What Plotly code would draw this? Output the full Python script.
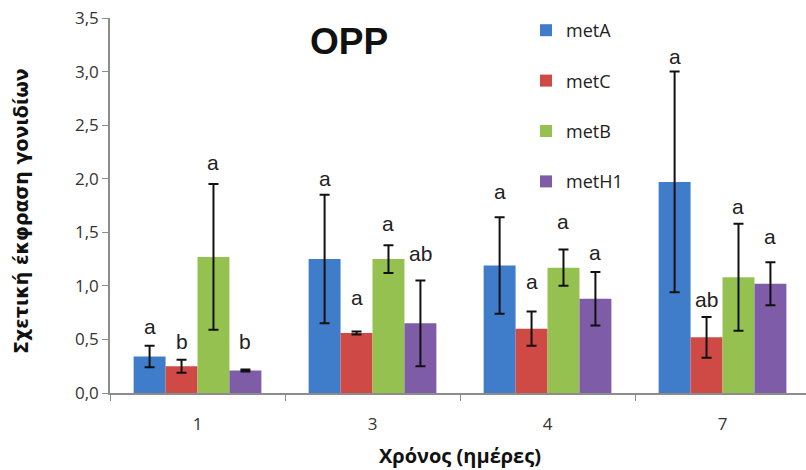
import plotly.graph_objects as go

days = ["1", "3", "4", "7"]
series = ["metA", "metC", "metB", "metH1"]
colors = ["#3f7cc9", "#cf4a45", "#94c150", "#7e5ca8"]

means = {
    "metA":  [0.34, 1.25, 1.19, 1.97],
    "metC":  [0.25, 0.56, 0.60, 0.52],
    "metB":  [1.27, 1.25, 1.17, 1.08],
    "metH1": [0.21, 0.65, 0.88, 1.02],
}
errors = {
    "metA":  [0.10, 0.60, 0.45, 1.03],
    "metC":  [0.06, 0.015, 0.16, 0.19],
    "metB":  [0.68, 0.13, 0.17, 0.50],
    "metH1": [0.01, 0.40, 0.25, 0.20],
}
letters = {
    "metA":  ["a", "a", "a", "a"],
    "metC":  ["b", "a", "a", "ab"],
    "metB":  ["a", "a", "a", "a"],
    "metH1": ["b", "ab", "a", "a"],
}
# vertical placement of the significance letters (data units)
letter_y = {
    "metA":  [0.62, 2.00, 1.88, 3.14],
    "metC":  [0.48, 0.89, 1.04, 0.87],
    "metB":  [2.15, 1.58, 1.60, 1.74],
    "metH1": [0.48, 1.30, 1.31, 1.46],
}

y_ticks = [0, 0.5, 1.0, 1.5, 2.0, 2.5, 3.0, 3.5]

W, H = 806, 470
L, T, B = 110, 18, 77
plot_w, plot_h = W - L, H - T - B

bargap = 0.27
bar_w = (1 - bargap) / len(series)

fig = go.Figure()
for si, name in enumerate(series):
    fig.add_trace(go.Bar(
        name=name,
        x=days,
        y=means[name],
        marker=dict(color=colors[si], line=dict(width=0)),
        error_y=dict(type="data", array=errors[name], visible=True,
                     color="#111111", thickness=2, width=5),
        legendgroup=name,
    ))
    for gi in range(len(days)):
        fig.add_annotation(
            x=gi + (si - (len(series) - 1) / 2) * bar_w,
            y=letter_y[name][gi],
            text=letters[name][gi],
            showarrow=False,
            yanchor="middle",
            font=dict(family="Liberation Sans, Arial", size=21, color="#222222"),
        )

# chart title inside the plot area
fig.add_annotation(
    x=(349 - L) / plot_w, y=(H - B - 42) / plot_h, xref="x domain", yref="y domain",
    text="<b>OPP</b>", showarrow=False, xanchor="center", yanchor="middle",
    font=dict(family="Liberation Sans, Arial", size=37, color="#111111"),
)
# axis titles
fig.add_annotation(
    x=(460 - L) / plot_w, y=-(455 - (H - B)) / plot_h, xref="x domain", yref="y domain",
    text="<b>Χρόνος (ημέρες)</b>", showarrow=False, xanchor="center", yanchor="middle",
    font=dict(family="Open Sans, Liberation Sans", size=20, color="#111111"),
)
fig.add_annotation(
    x=-(L - 21) / plot_w, y=((H - B) - 211) / plot_h, xref="x domain", yref="y domain",
    text="<b>Σχετική έκφραση γονιδίων</b>", showarrow=False, textangle=-90,
    xanchor="center", yanchor="middle",
    font=dict(family="DejaVu Sans", size=19, color="#111111"),
)

fig.update_layout(
    width=W, height=H,
    margin=dict(l=L, r=0, t=T, b=B),
    paper_bgcolor="white", plot_bgcolor="white",
    barmode="group", bargap=bargap, bargroupgap=0,
    separators=",.",
    showlegend=True,
    legend=dict(
        x=(526 - L) / plot_w, y=1 + 6 / plot_h,
        xanchor="left", yanchor="top",
        traceorder="grouped", tracegroupgap=24,
        font=dict(family="Open Sans, Liberation Sans", size=18, color="#222222"),
        bgcolor="rgba(0,0,0,0)", itemwidth=30,
    ),
    xaxis=dict(
        type="category",
        range=[-0.5, 3.477],
        showline=True, linecolor="#8c8c8c", linewidth=1.5,
        ticks="outside", tickson="boundaries", ticklen=6, tickcolor="#8c8c8c",
        ticklabelstandoff=15,
        showgrid=False, zeroline=False,
        tickfont=dict(family="Open Sans, Liberation Sans", size=17, color="#333333"),
    ),
    yaxis=dict(
        range=[0, 3.5],
        tickvals=y_ticks,
        tickformat=".1f",
        showline=True, linecolor="#8c8c8c", linewidth=1.5,
        ticks="outside", ticklen=6, tickcolor="#8c8c8c",
        showgrid=False, zeroline=False,
        tickfont=dict(family="Open Sans, Liberation Sans", size=17, color="#333333"),
    ),
)

fig.write_html("out.html")
